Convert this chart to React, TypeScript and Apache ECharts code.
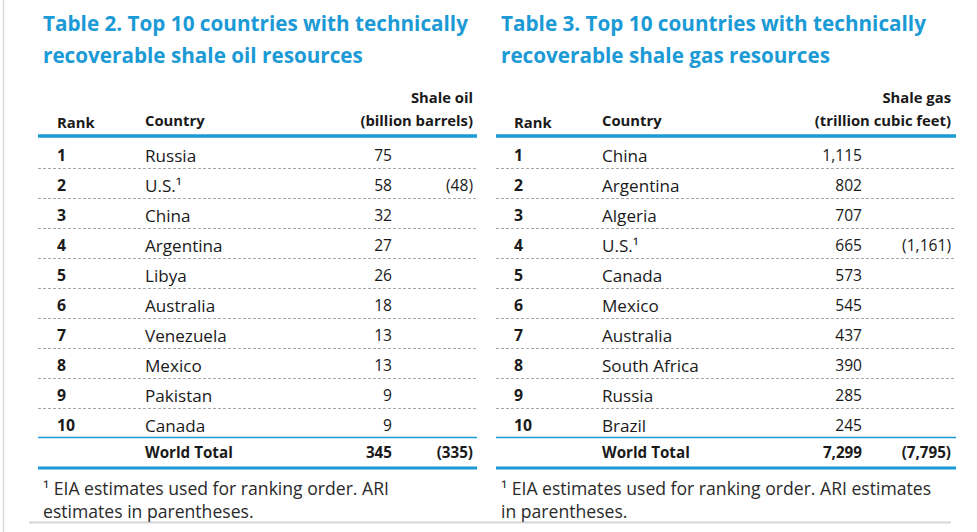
import React, { useEffect, useRef } from "react";
import * as echarts from "echarts";

// ---- Data ----
const ranks = [1, 2, 3, 4, 5, 6, 7, 8, 9, 10];

const oilTitle = ["Table 2. Top 10 countries with technically", "recoverable shale oil resources"];
const oilHeader = ["Shale oil", "(billion barrels)"];
const oilCountries = ["Russia", "U.S.¹", "China", "Argentina", "Libya", "Australia", "Venezuela", "Mexico", "Pakistan", "Canada"];
const oilValues = [75, 58, 32, 27, 26, 18, 13, 13, 9, 9];
const oilAri: (number | null)[] = [null, 48, null, null, null, null, null, null, null, null];
const oilTotal = 345;
const oilTotalAri = 335;
const oilNote = ["¹ EIA estimates used for ranking order. ARI", "estimates in parentheses."];

const gasTitle = ["Table 3. Top 10 countries with technically", "recoverable shale gas resources"];
const gasHeader = ["Shale gas", "(trillion cubic feet)"];
const gasCountries = ["China", "Argentina", "Algeria", "U.S.¹", "Canada", "Mexico", "Australia", "South Africa", "Russia", "Brazil"];
const gasValues = [1115, 802, 707, 665, 573, 545, 437, 390, 285, 245];
const gasAri: (number | null)[] = [null, null, null, 1161, null, null, null, null, null, null];
const gasTotal = 7299;
const gasTotalAri = 7795;
const gasNote = ["¹ EIA estimates used for ranking order. ARI estimates", "in parentheses."];

const colLabels = ["Rank", "Country"];

// ---- Styles ----
const FONT = "'Open Sans', 'Noto Sans', sans-serif";
const BLUE = "#1b9ad6";
const INK = "#1a1a1a";

const fmt = (n: number) => n.toLocaleString("en-US");

function t(x: number, y: number, text: string, o: any = {}) {
  return {
    type: "text",
    x,
    y,
    silent: true,
    style: {
      text,
      fontFamily: FONT,
      fontSize: o.size ?? 16,
      fontWeight: o.bold ? "bold" : "normal",
      fill: o.color ?? INK,
      align: o.align ?? "left",
      verticalAlign: "middle",
    },
  };
}

function ln(x1: number, y1: number, x2: number, y2: number, stroke: string, w: number, dash?: number[]) {
  return {
    type: "line",
    silent: true,
    shape: { x1, y1, x2, y2 },
    style: { stroke, lineWidth: w, lineDash: dash },
  };
}

function buildTable(
  L: { title: number; rank: number; country: number; val: number; ari: number; lx1: number; lx2: number },
  title: string[],
  header: string[],
  countries: string[],
  values: number[],
  ari: (number | null)[],
  total: number,
  totalAri: number,
  note: string[]
) {
  const els: any[] = [];
  els.push(t(L.title, 23, title[0], { size: 20.7, bold: true, color: BLUE }));
  els.push(t(L.title, 55, title[1], { size: 20.7, bold: true, color: BLUE }));
  els.push(t(L.ari, 97, header[0], { size: 14.8, bold: true, align: "right" }));
  els.push(t(L.ari, 120, header[1], { size: 14.8, bold: true, align: "right" }));
  els.push(t(L.rank, 122, colLabels[0], { size: 14.8, bold: true }));
  els.push(t(L.country, 120, colLabels[1], { size: 14.8, bold: true }));
  els.push(ln(L.lx1, 136, L.lx2, 136, BLUE, 3.5));
  const y0 = 155;
  const dy = 30;
  ranks.forEach((r, i) => {
    const y = y0 + i * dy;
    els.push(t(L.rank, y, String(r), { size: 15.8, bold: true }));
    els.push(t(L.country, y, countries[i], { size: 17.1 }));
    els.push(t(L.val, y, fmt(values[i]), { size: 15.6, align: "right" }));
    if (ari[i] != null) els.push(t(L.ari, y, "(" + fmt(ari[i] as number) + ")", { size: 15.6, align: "right" }));
    if (i < ranks.length - 1) els.push(ln(L.lx1, y + 13.5, L.lx2, y + 13.5, "#a8a8a8", 1, [3, 2]));
  });
  els.push(ln(L.lx1, 437.5, L.lx2, 437.5, BLUE, 1.5));
  els.push(t(L.country, 452, "World Total", { size: 15.2, bold: true }));
  els.push(t(L.val, 452, fmt(total), { size: 15.2, bold: true, align: "right" }));
  els.push(t(L.ari, 452, "(" + fmt(totalAri) + ")", { size: 15.2, bold: true, align: "right" }));
  els.push(ln(L.lx1, 468, L.lx2, 468, BLUE, 3));
  els.push(t(L.title, 488, note[0], { size: 17.6, color: "#2a2a2a" }));
  els.push(t(L.title, 511, note[1], { size: 17.6, color: "#2a2a2a" }));
  return els;
}

export default function App() {
  const ref = useRef<HTMLDivElement>(null);
  useEffect(() => {
    document.body.style.margin = "0";
    const chart = echarts.init(ref.current!, null, { renderer: "svg" });
    const left = buildTable(
      { title: 43, rank: 57, country: 145, val: 392, ari: 473, lx1: 38, lx2: 477 },
      oilTitle, oilHeader, oilCountries, oilValues, oilAri, oilTotal, oilTotalAri, oilNote
    );
    const right = buildTable(
      { title: 501, rank: 514, country: 602, val: 862, ari: 951, lx1: 496, lx2: 956 },
      gasTitle, gasHeader, gasCountries, gasValues, gasAri, gasTotal, gasTotalAri, gasNote
    );
    const frame = [
      ln(3.5, 0, 3.5, 532, "#dcdcdc", 1.5),
      ln(29, 522.5, 951, 522.5, "#d6d6d6", 2),
    ];
    chart.setOption({
      animation: false,
      backgroundColor: "#ffffff",
      graphic: { elements: [...frame, ...left, ...right] },
    });
    return () => chart.dispose();
  }, []);
  return <div ref={ref} style={{ width: 977, height: 532 }} />;
}
